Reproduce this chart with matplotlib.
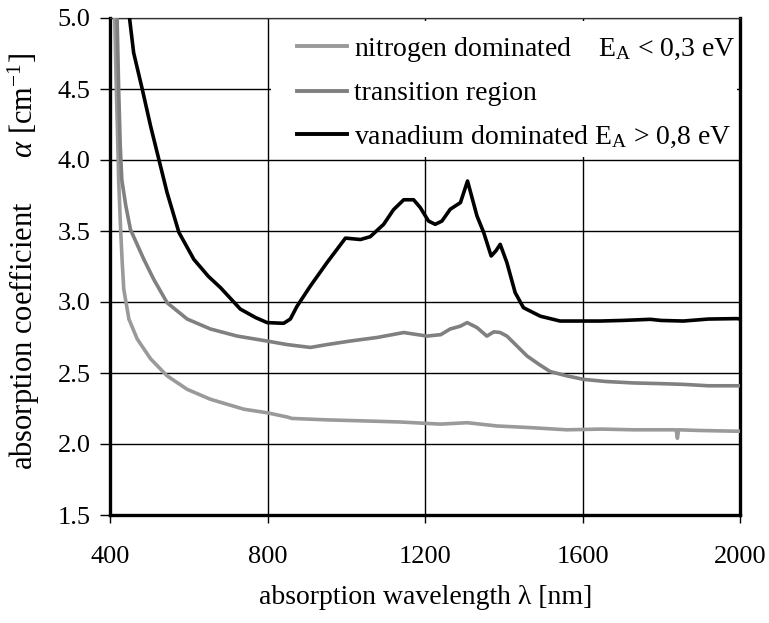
import matplotlib
matplotlib.use("Agg")
import matplotlib.pyplot as plt
from matplotlib.patches import Rectangle

# ---------------- data ----------------
nitrogen_wl = [405, 412, 416, 419, 422, 427, 431, 435, 448, 469, 503, 545, 596, 655,
               740, 799, 850, 862, 951, 1078, 1137, 1239, 1307, 1383, 1470, 1560,
               1650, 1729, 1800, 1838, 1841, 1844, 1900, 1992, 2000]
nitrogen_a = [5.6, 5.0, 4.5, 4.2, 3.86, 3.51, 3.28, 3.09, 2.88, 2.74, 2.60, 2.48, 2.385,
              2.315, 2.245, 2.22, 2.19, 2.18, 2.17, 2.16, 2.155, 2.14, 2.15, 2.127,
              2.115, 2.10, 2.105, 2.10, 2.10, 2.10, 2.04, 2.10, 2.095, 2.09, 2.09]

transition_wl = [410, 418, 422, 426, 430, 440, 452, 486, 511, 545, 596, 655, 723, 799,
                 850, 909, 951, 1010, 1078, 1146, 1205, 1240, 1264, 1290, 1307, 1332,
                 1357, 1375, 1391, 1408, 1430, 1459, 1490, 1518, 1560, 1603, 1660, 1729,
                 1800, 1856, 1920, 1992, 2000]
transition_a = [5.6, 5.0, 4.5, 4.1, 3.86, 3.68, 3.51, 3.30, 3.16, 2.995, 2.88, 2.81,
                2.76, 2.725, 2.70, 2.68, 2.70, 2.725, 2.75, 2.785, 2.76, 2.77, 2.81,
                2.83, 2.855, 2.82, 2.76, 2.79, 2.785, 2.76, 2.70, 2.62, 2.56, 2.51,
                2.48, 2.455, 2.44, 2.43, 2.425, 2.42, 2.41, 2.41, 2.41]

vanadium_wl = [440, 450, 460, 482, 503, 524, 545, 575, 613, 650, 681, 731, 770, 799,
               841, 858, 875, 909, 951, 998, 1036, 1061, 1095, 1120, 1146, 1171, 1188,
               1209, 1226, 1243, 1264, 1290, 1308, 1332, 1349, 1368, 1380, 1391, 1408,
               1429, 1450, 1493, 1543, 1645, 1700, 1772, 1800, 1856, 1920, 1992, 2000]
vanadium_a = [5.3, 4.99, 4.756, 4.498, 4.24, 4.005, 3.77, 3.49, 3.30, 3.18, 3.10, 2.95,
              2.89, 2.855, 2.85, 2.88, 2.97, 3.113, 3.277, 3.45, 3.44, 3.46, 3.547,
              3.65, 3.72, 3.72, 3.665, 3.57, 3.547, 3.57, 3.653, 3.70, 3.852, 3.606,
              3.49, 3.324, 3.36, 3.406, 3.277, 3.066, 2.96, 2.90, 2.866, 2.866, 2.87,
              2.878, 2.87, 2.866, 2.88, 2.883, 2.88]

labels = ["nitrogen dominated    E$_\\mathregular{A}$ < 0,3 eV",
          "transition region",
          "vanadium dominated E$_\\mathregular{A}$ > 0,8 eV"]
colors = ["#9a9a9a", "#808080", "#000000"]

x_ticks = [400, 800, 1200, 1600, 2000]
y_ticks = [1.5, 2.0, 2.5, 3.0, 3.5, 4.0, 4.5, 5.0]

# ---------------- styling ----------------
plt.rcParams["font.family"] = ["Liberation Serif", "DejaVu Serif"]
plt.rcParams["mathtext.fontset"] = "custom"
plt.rcParams["mathtext.rm"] = "Liberation Serif"
plt.rcParams["mathtext.it"] = "Liberation Serif:italic"
FS = 20
TFS = 19
YFS = 22

W, H = 769, 623
fig = plt.figure(figsize=(W / 100, H / 100), dpi=100)
L, R, T, B = 110, 740, 18, 515
ax = fig.add_axes([L / W, 1 - B / H, (R - L) / W, (B - T) / H])

series = [(nitrogen_wl, nitrogen_a), (transition_wl, transition_a), (vanadium_wl, vanadium_a)]
handles = []
for (xw, ya), c, lab in zip(series, colors, labels):
    h, = ax.plot(xw, ya, color=c, lw=2.6, label=lab, zorder=3, solid_joinstyle="round")
    handles.append(h)

ax.set_xlim(400, 2000)
ax.set_ylim(1.5, 5.0)
ax.set_xticks(x_ticks)
ax.set_yticks(y_ticks)
ax.set_yticklabels([f"{v:.1f}" for v in y_ticks])
ax.grid(True, color="black", lw=1.0)
ax.set_axisbelow(True)

for side in ["left", "bottom", "right"]:
    ax.spines[side].set_linewidth(2.4)
    ax.spines[side].set_color("black")
ax.spines["top"].set_linewidth(0.9)
ax.spines["top"].set_color("#333333")

ax.tick_params(axis="y", direction="out", length=7, width=1.0, pad=7, labelsize=TFS)
ax.tick_params(axis="x", direction="out", length=6, width=1.0, pad=16, labelsize=TFS)

# white background behind the legend (hides grid lines there)
ax.add_patch(Rectangle((0.256, 0.72), 0.739, 0.274, transform=ax.transAxes,
                       facecolor="white", edgecolor="none", zorder=2))

leg = ax.legend(handles=handles, loc="upper left",
                bbox_to_anchor=((297 - L) / (R - L), (B - 35) / (B - T)),
                frameon=False, fontsize=FS, handlelength=1.8, handletextpad=0.25,
                labelspacing=0.61, borderpad=0, borderaxespad=0)
leg.set_zorder(5)
for line in leg.get_lines():
    line.set_linewidth(2.8)

fig.text(24 / W, 1 - 470 / H,
         "absorption coefficient      $\\alpha$ [cm$^{\\mathregular{-1}}$]",
         rotation=90, ha="center", va="bottom", fontsize=YFS)
fig.text(426 / W, 1 - 597 / H, "absorption wavelength λ [nm]",
         ha="center", va="center", fontsize=FS)

fig.savefig("out.png", dpi=100, facecolor="white")
